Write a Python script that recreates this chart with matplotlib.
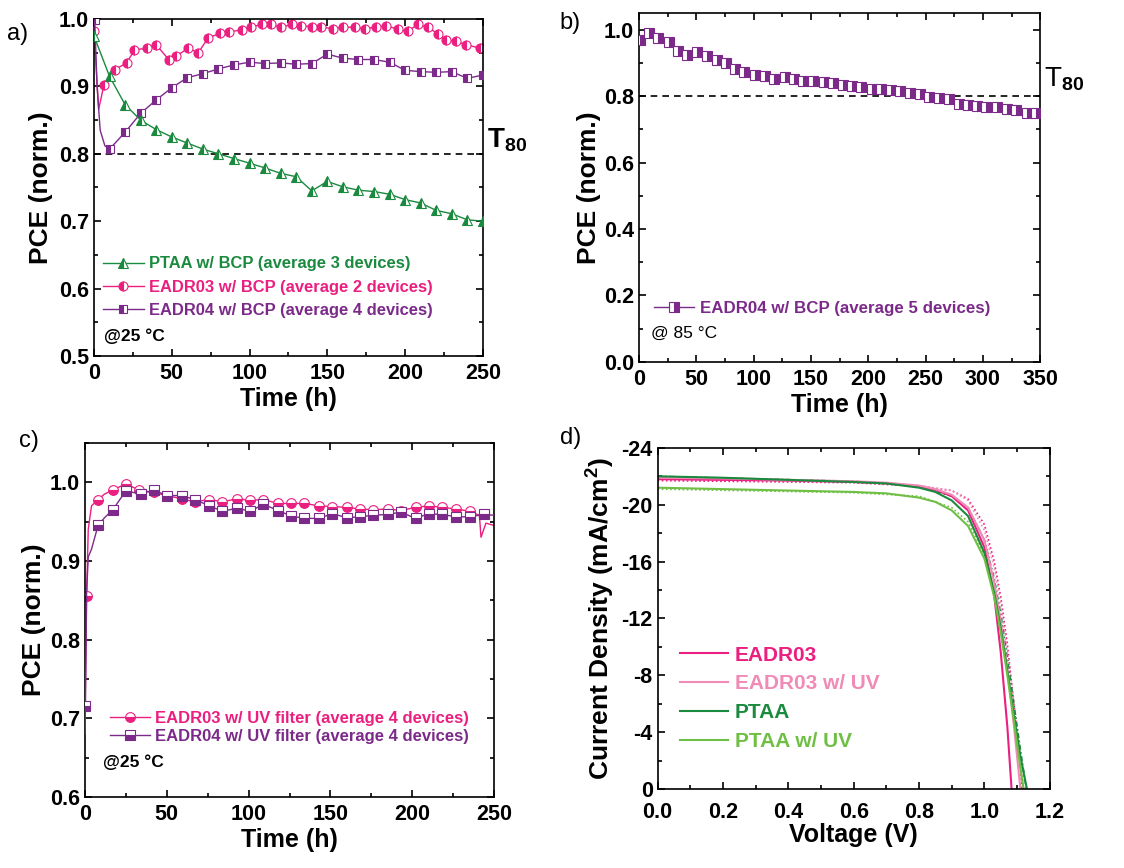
import matplotlib
matplotlib.use("Agg")
import matplotlib.pyplot as plt
from matplotlib.lines import Line2D
from matplotlib.ticker import MultipleLocator, FormatStrFormatter
import matplotlib.transforms as mtrans

plt.rcParams['font.family'] = ['Liberation Sans', 'DejaVu Sans']
plt.rcParams['font.weight'] = 'bold'
plt.rcParams['axes.labelweight'] = 'bold'
plt.rcParams['mathtext.fontset'] = 'custom'
plt.rcParams['mathtext.rm'] = 'Liberation Sans'
plt.rcParams['mathtext.bf'] = 'Liberation Sans:bold'
plt.rcParams['mathtext.default'] = 'bf'
plt.rcParams['axes.linewidth'] = 1.2

# colours
GREEN = '#1a8a3e'
PINK = '#ea1f80'
PURPLE = '#7c2a8a'
LPINK = '#f08ab6'
LGREEN = '#70bf45'

# ---------------- panel a data ----------------
a_ptaa_t = [0, 10, 20, 30, 40, 50, 60, 70, 80, 90, 100, 110, 120, 130, 140, 150,
            160, 170, 180, 190, 200, 210, 220, 230, 240, 250]
a_ptaa = [0.975, 0.915, 0.873, 0.85, 0.836, 0.825, 0.816, 0.807, 0.80, 0.793, 0.786,
          0.779, 0.771, 0.766, 0.745, 0.759, 0.751, 0.746, 0.744, 0.74, 0.732, 0.727,
          0.716, 0.711, 0.702, 0.70]

a_e03_t = [0, 3, 6.4, 13.5, 21, 26, 34, 40, 48, 53, 60.5, 67, 73.4, 81, 87, 95, 101,
           107.7, 114, 120.5, 127, 133, 140, 146, 153.7, 160, 167.6, 174, 181.5, 188,
           195.4, 201.8, 208, 214.7, 221, 226.5, 233, 239, 248, 250]
a_e03 = [0.982, 0.866, 0.902, 0.925, 0.935, 0.954, 0.957, 0.962, 0.94, 0.945, 0.957,
         0.95, 0.972, 0.979, 0.981, 0.984, 0.988, 0.992, 0.992, 0.988, 0.992, 0.99,
         0.989, 0.988, 0.986, 0.988, 0.988, 0.986, 0.988, 0.99, 0.985, 0.982, 0.992,
         0.988, 0.978, 0.969, 0.967, 0.962, 0.957, 0.962]
a_e03_marks = [0] + list(range(2, 39))

a_e04_t = [0.5, 2, 4, 7, 10, 20, 30, 40, 50, 60, 70, 80, 90, 100, 110, 120, 130, 140,
           150, 160, 170, 180, 190, 200, 210, 220, 230, 240, 250]
a_e04 = [0.998, 0.90, 0.835, 0.812, 0.807, 0.832, 0.86, 0.88, 0.898, 0.913, 0.919,
         0.926, 0.932, 0.936, 0.934, 0.935, 0.933, 0.934, 0.948, 0.942, 0.94, 0.94,
         0.936, 0.924, 0.922, 0.921, 0.922, 0.912, 0.917]
a_e04_marks = [0] + list(range(4, 29))

# ---------------- panel b data ----------------
b_t = [1, 9, 17, 26, 34, 42, 51, 59, 68, 76, 84, 92, 101, 110, 118, 127, 135, 143,
       152, 161, 169, 178, 186, 194, 203, 211, 220, 228, 236, 245, 253, 262, 270, 279,
       287, 295, 303, 312, 321, 329, 338, 346]
b_e04 = [0.97, 0.99, 0.975, 0.962, 0.935, 0.925, 0.932, 0.92, 0.91, 0.90, 0.882,
         0.874, 0.864, 0.861, 0.851, 0.857, 0.85, 0.846, 0.846, 0.841, 0.839, 0.834,
         0.83, 0.827, 0.82, 0.82, 0.818, 0.814, 0.809, 0.806, 0.797, 0.793, 0.791,
         0.777, 0.773, 0.769, 0.767, 0.767, 0.761, 0.759, 0.749, 0.749]

# ---------------- panel c data ----------------
c_e03_t = [0, 1, 2, 4, 8, 12, 17, 25, 33, 42, 50, 59, 67, 76, 84, 93, 101, 109, 118,
           126, 134, 143, 151, 160, 168, 176, 185, 193, 202, 210, 218, 227, 235, 241,
           242, 245, 250]
c_e03 = [0.70, 0.855, 0.94, 0.97, 0.978, 0.985, 0.99, 0.998, 0.99, 0.987, 0.983,
         0.979, 0.975, 0.978, 0.975, 0.979, 0.977, 0.978, 0.973, 0.973, 0.973, 0.97,
         0.969, 0.968, 0.966, 0.965, 0.966, 0.964, 0.968, 0.970, 0.968, 0.966, 0.963,
         0.958, 0.93, 0.948, 0.945]
c_e03_marks = [1, 4] + list(range(6, 33))

c_e04_t = [0, 0.3, 1, 2, 4, 8, 12, 17, 25, 34, 42, 50, 59, 67, 76, 84, 93, 101, 109,
           118, 126, 134, 143, 151, 160, 168, 176, 185, 193, 202, 210, 218, 227, 235,
           244, 250]
c_e04 = [0.68, 0.716, 0.86, 0.905, 0.915, 0.945, 0.955, 0.965, 0.989, 0.985, 0.99,
         0.983, 0.983, 0.978, 0.97, 0.963, 0.967, 0.963, 0.972, 0.964, 0.957, 0.954,
         0.954, 0.96, 0.955, 0.956, 0.958, 0.959, 0.962, 0.954, 0.96, 0.959, 0.956,
         0.956, 0.959, 0.958]
c_e04_marks = [1, 5] + list(range(7, 35))

# ---------------- panel d data (J-V) ----------------
d_e03_v = [0, 0.2, 0.4, 0.6, 0.7, 0.8, 0.85, 0.9, 0.95, 1.0, 1.03, 1.05, 1.07, 1.083]
d_e03_j = [-21.8, -21.75, -21.7, -21.6, -21.5, -21.3, -21.05, -20.6, -19.6, -17.0,
           -13.6, -9.6, -4.4, 0]
d_e03uv_v = [0, 0.2, 0.4, 0.6, 0.7, 0.8, 0.85, 0.9, 0.95, 1.0, 1.03, 1.05, 1.07, 1.09, 1.11]
d_e03uv_j = [-21.9, -21.85, -21.75, -21.65, -21.55, -21.35, -21.1, -20.7, -19.8,
             -17.5, -14.5, -11.8, -8.5, -4.5, 0]
d_ptaa_v = [0, 0.2, 0.4, 0.6, 0.7, 0.8, 0.85, 0.9, 0.95, 1.0, 1.03, 1.05, 1.07, 1.09,
            1.11, 1.13]
d_ptaa_j = [-22.0, -21.9, -21.75, -21.6, -21.5, -21.2, -20.9, -20.3, -19.2, -16.6,
            -13.8, -11.3, -8.3, -5.2, -2.3, 0]
d_ptaauv_v = [0, 0.2, 0.4, 0.6, 0.7, 0.8, 0.85, 0.9, 0.95, 1.0, 1.03, 1.05, 1.07,
              1.09, 1.11, 1.12]
d_ptaauv_j = [-21.2, -21.1, -21.0, -20.9, -20.8, -20.5, -20.2, -19.6, -18.5, -16.2,
              -13.5, -11.0, -8.0, -4.8, -1.5, 0]
# forward scans (dotted)
d_e03f_v = [0, 0.6, 0.8, 0.9, 0.95, 1.0, 1.03, 1.05, 1.07, 1.09, 1.11, 1.115]
d_e03f_j = [-21.7, -21.55, -21.3, -21.0, -20.4, -18.6, -16.0, -13.5, -10.2, -6.0, -1.5, 0]
d_e03uvf_v = [0, 0.6, 0.8, 0.9, 0.95, 1.0, 1.03, 1.05, 1.07, 1.09, 1.11, 1.12]
d_e03uvf_j = [-21.8, -21.6, -21.35, -21.0, -20.3, -18.2, -15.6, -13.0, -9.8, -6.2, -2.2, 0]
d_ptaaf_v = [0, 0.6, 0.8, 0.9, 0.95, 1.0, 1.03, 1.05, 1.07, 1.09, 1.11, 1.128]
d_ptaaf_j = [-22.0, -21.65, -21.3, -20.6, -19.8, -17.5, -14.8, -12.3, -9.2, -6.0, -2.8, 0]
d_ptaauvf_v = [0, 0.6, 0.8, 0.9, 0.95, 1.0, 1.05, 1.1, 1.118]
d_ptaauvf_j = [-21.1, -20.85, -20.6, -19.8, -18.8, -16.5, -11.5, -3.5, 0]

fig = plt.figure(figsize=(11.24, 8.68), dpi=100)

TICK_FS = 15.5
XLAB_FS = 18
YLAB_FS = 19


def style(ax):
    ax.tick_params(which='both', direction='in', top=True, right=True,
                   labelsize=TICK_FS, width=1.2)
    ax.tick_params(which='major', length=5)
    ax.tick_params(which='minor', length=3)
    ax.tick_params(axis='x', pad=5)


def proxy(color, marker, fill, ms):
    return Line2D([], [], color=color, lw=1.0, marker=marker, ms=ms, fillstyle=fill,
                  markerfacecolor=color, markerfacecoloralt='white',
                  markeredgecolor=color, markeredgewidth=0.8)


# ---------------- panel a ----------------
ax = fig.add_axes([0.0836, 0.590, 0.346, 0.388])
ax.plot(a_e03_t, a_e03, color=PINK, lw=1.0, marker='o', ms=6.5, markevery=a_e03_marks,
        fillstyle='left', markerfacecoloralt='white', markeredgewidth=0.8, zorder=2)
ax.plot(a_e04_t, a_e04, color=PURPLE, lw=1.0, marker='s', ms=6, markevery=a_e04_marks,
        fillstyle='left', markerfacecoloralt='white', markeredgewidth=0.8, zorder=3)
ax.plot(a_ptaa_t, a_ptaa, color=GREEN, lw=1.0, marker='^', ms=7,
        fillstyle='left', markerfacecoloralt='white', markeredgewidth=0.8, zorder=4)
ax.axhline(0.8, color='black', lw=1.2, ls=(0, (4, 3)), zorder=1)
ax.set_xlim(0, 250)
ax.set_ylim(0.5, 1.0)
ax.xaxis.set_major_locator(MultipleLocator(50))
ax.xaxis.set_minor_locator(MultipleLocator(25))
ax.yaxis.set_major_locator(MultipleLocator(0.1))
ax.yaxis.set_minor_locator(MultipleLocator(0.05))
ax.yaxis.set_major_formatter(FormatStrFormatter('%.1f'))
style(ax)
ax.set_xlabel('Time (h)', fontsize=XLAB_FS, labelpad=2)
ax.set_ylabel('PCE (norm.)', fontsize=YLAB_FS, labelpad=4)
handles = [proxy(GREEN, '^', 'left', 7), proxy(PINK, 'o', 'left', 6.5),
           proxy(PURPLE, 's', 'left', 6)]
labels = ['PTAA w/ BCP (average 3 devices)', 'EADR03 w/ BCP (average 2 devices)',
          'EADR04 w/ BCP (average 4 devices)']
ax.legend(handles, labels, loc='upper left', bbox_to_anchor=(0.005, 0.315),
          frameon=False, fontsize=11.9, handlelength=2.5, handletextpad=0.3,
          labelspacing=0.5, labelcolor=[GREEN, PINK, PURPLE], borderaxespad=0)
ax.text(0.025, 0.045, '@25 °C', transform=ax.transAxes, fontsize=12.5)
tr = mtrans.blended_transform_factory(ax.transAxes, ax.transData)
ax.text(1.01, 0.82, 'T$_{80}$', transform=tr, fontsize=20, va='center')
fig.text(0.006, 0.973, 'a)', fontsize=17, fontweight='normal', va='top')

# ---------------- panel b ----------------
ax = fig.add_axes([0.5685, 0.583, 0.357, 0.402])
ax.plot(b_t, b_e04, color=PURPLE, lw=1.0, marker='s', ms=7.5, fillstyle='right',
        markerfacecoloralt='white', markeredgewidth=0.8, zorder=3)
ax.axhline(0.8, color='black', lw=1.2, ls=(0, (4, 3)), zorder=1)
ax.set_xlim(0, 350)
ax.set_ylim(0, 1.05)
ax.xaxis.set_major_locator(MultipleLocator(50))
ax.xaxis.set_minor_locator(MultipleLocator(25))
ax.yaxis.set_major_locator(MultipleLocator(0.2))
ax.yaxis.set_minor_locator(MultipleLocator(0.1))
ax.yaxis.set_major_formatter(FormatStrFormatter('%.1f'))
style(ax)
ax.set_xlabel('Time (h)', fontsize=XLAB_FS, labelpad=2)
ax.set_ylabel('PCE (norm.)', fontsize=YLAB_FS, labelpad=2)
ax.legend([proxy(PURPLE, 's', 'right', 7)], ['EADR04 w/ BCP (average 5 devices)'],
          loc='upper left', bbox_to_anchor=(0.02, 0.195), frameon=False,
          fontsize=12.2, handlelength=2.4, handletextpad=0.3,
          labelcolor=[PURPLE], borderaxespad=0)
ax.text(0.03, 0.07, '@ 85 °C', transform=ax.transAxes, fontsize=12.5,
        fontweight='normal')
tr = mtrans.blended_transform_factory(ax.transAxes, ax.transData)
ax.text(1.01, 0.85, r'T$_{\mathrm{80}}$', transform=tr, fontsize=20, va='center',
        fontweight='normal')
fig.text(0.498, 0.986, 'b)', fontsize=17, fontweight='normal', va='top')

# ---------------- panel c ----------------
ax = fig.add_axes([0.0756, 0.0818, 0.364, 0.408])
ax.plot(c_e03_t, c_e03, color=PINK, lw=1.0, marker='o', ms=7, markevery=c_e03_marks,
        fillstyle='bottom', markerfacecoloralt='white', markeredgewidth=0.8, zorder=2)
ax.plot(c_e04_t, c_e04, color=PURPLE, lw=1.0, marker='s', ms=6.5, markevery=c_e04_marks,
        fillstyle='bottom', markerfacecoloralt='white', markeredgewidth=0.8, zorder=3)
ax.set_xlim(0, 250)
ax.set_ylim(0.6, 1.05)
ax.xaxis.set_major_locator(MultipleLocator(50))
ax.xaxis.set_minor_locator(MultipleLocator(25))
ax.yaxis.set_major_locator(MultipleLocator(0.1))
ax.yaxis.set_minor_locator(MultipleLocator(0.05))
ax.yaxis.set_major_formatter(FormatStrFormatter('%.1f'))
style(ax)
ax.set_xlabel('Time (h)', fontsize=XLAB_FS, labelpad=2)
ax.set_ylabel('PCE (norm.)', fontsize=YLAB_FS, labelpad=3)
ax.legend([proxy(PINK, 'o', 'bottom', 7), proxy(PURPLE, 's', 'bottom', 6.5)],
          ['EADR03 w/ UV filter (average 4 devices)',
           'EADR04 w/ UV filter (average 4 devices)'],
          loc='upper left', bbox_to_anchor=(0.045, 0.262), frameon=False,
          fontsize=12.0, handlelength=2.4, handletextpad=0.3, labelspacing=0.2,
          labelcolor=[PINK, PURPLE], borderaxespad=0)
ax.text(0.045, 0.085, '@25 °C', transform=ax.transAxes, fontsize=12.5)
fig.text(0.017, 0.505, 'c)', fontsize=17, fontweight='normal', va='top')

# ---------------- panel d ----------------
ax = fig.add_axes([0.585, 0.091, 0.349, 0.393])
ax.plot(d_e03f_v, d_e03f_j, color=PINK, lw=1.2, ls=(0, (1, 1.5)))
ax.plot(d_e03uvf_v, d_e03uvf_j, color=LPINK, lw=1.2, ls=(0, (1, 1.5)))
ax.plot(d_ptaaf_v, d_ptaaf_j, color=GREEN, lw=1.2, ls=(0, (3, 1.5, 1, 1.5)))
ax.plot(d_ptaauvf_v, d_ptaauvf_j, color=LGREEN, lw=1.2, ls=(0, (1, 1.5)))
l1, = ax.plot(d_e03_v, d_e03_j, color=PINK, lw=1.5)
l2, = ax.plot(d_e03uv_v, d_e03uv_j, color=LPINK, lw=1.5)
l3, = ax.plot(d_ptaa_v, d_ptaa_j, color=GREEN, lw=1.5)
l4, = ax.plot(d_ptaauv_v, d_ptaauv_j, color=LGREEN, lw=1.5)
ax.set_xlim(0, 1.2)
ax.set_ylim(0, -24)
ax.xaxis.set_major_locator(MultipleLocator(0.2))
ax.xaxis.set_minor_locator(MultipleLocator(0.1))
ax.yaxis.set_major_locator(MultipleLocator(4))
ax.yaxis.set_minor_locator(MultipleLocator(2))
ax.xaxis.set_major_formatter(FormatStrFormatter('%.1f'))
ax.yaxis.set_major_formatter(FormatStrFormatter('%d'))
style(ax)
ax.tick_params(axis='x', pad=9)
ax.set_xlabel('Voltage (V)', fontsize=XLAB_FS, labelpad=0)
ax.set_ylabel('Current Density (mA/cm$^{2}$)', fontsize=YLAB_FS, labelpad=3)
ax.legend([l1, l2, l3, l4], ['EADR03', 'EADR03 w/ UV', 'PTAA', 'PTAA w/ UV'],
          loc='upper left', bbox_to_anchor=(0.035, 0.445), frameon=False,
          fontsize=15, handlelength=2.3, handletextpad=0.35, labelspacing=0.47,
          labelcolor=[PINK, LPINK, GREEN, LGREEN], borderaxespad=0)
fig.text(0.498, 0.508, 'd)', fontsize=17, fontweight='normal', va='top')

fig.savefig('out.png', dpi=100)
